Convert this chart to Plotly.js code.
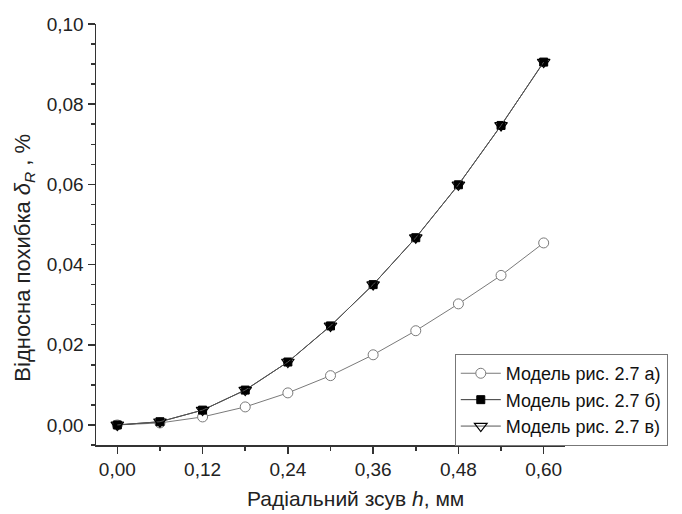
<!DOCTYPE html>
<html>
<head>
<meta charset="utf-8">
<script src="https://cdn.plot.ly/plotly-3.0.1.min.js"></script>
<style>html,body{margin:0;padding:0;background:#fff}#chart{width:682px;height:514px}</style>
</head>
<body>
<div id="chart"></div>
<script>
const h = [0.00, 0.06, 0.12, 0.18, 0.24, 0.30, 0.36, 0.42, 0.48, 0.54, 0.60];
const modelA = [0.0000, 0.0005, 0.0020, 0.0045, 0.0080, 0.0123, 0.0175, 0.0235, 0.0302, 0.0373, 0.0454];
const modelB = [0.0000, 0.0008, 0.0037, 0.0087, 0.0157, 0.0247, 0.0350, 0.0467, 0.0599, 0.0747, 0.0905];
const modelV = [0.0000, 0.0008, 0.0037, 0.0087, 0.0157, 0.0247, 0.0350, 0.0467, 0.0599, 0.0747, 0.0905];
const names = ['Модель рис. 2.7 а)', 'Модель рис. 2.7 б)', 'Модель рис. 2.7 в)'];
const xTitle = 'Радіальний зсув <i>h</i>, мм';
const yTitle = 'Відносна похибка <i>δ<sub>R</sub></i> , %';

const traces = [
  {x: h, y: modelA, name: names[0], mode: 'lines+markers',
   line: {color: '#7a7a7a', width: 1},
   marker: {symbol: 'circle', size: 10, color: '#ffffff', line: {color: '#7a7a7a', width: 1}}},
  {x: h, y: modelB, name: names[1], mode: 'lines+markers',
   line: {color: '#333333', width: 1},
   marker: {symbol: 'square', size: 8, color: '#000000', line: {color: '#000000', width: 1}}},
  {x: h, y: modelV, name: names[2], mode: 'lines+markers',
   line: {color: '#555555', width: 1},
   marker: {symbol: 'triangle-down-open', size: 11, color: '#000000', line: {color: '#000000', width: 1.2}}}
];

const font = {family: '"Liberation Sans", Arial, sans-serif', color: '#222', size: 19};
const layout = {
  width: 682, height: 514,
  margin: {l: 96, r: 117, t: 24, b: 69},
  paper_bgcolor: '#fff', plot_bgcolor: '#fff',
  font: font,
  separators: ', ',
  showlegend: true,
  xaxis: {
    range: [-0.03, 0.63], dtick: 0.12, tick0: 0, tickformat: '.2f',
    showgrid: false, zeroline: false, showline: true, linecolor: '#333', linewidth: 1.5,
    ticks: 'outside', ticklen: 7, tickwidth: 1.5, tickcolor: '#333',
    minor: {dtick: 0.06, ticks: 'outside', ticklen: 4, tickwidth: 1.5, tickcolor: '#333', showgrid: false},
    tickfont: {size: 19}
  },
  yaxis: {
    range: [-0.005, 0.10], dtick: 0.02, tick0: 0, tickformat: '.2f',
    showgrid: false, zeroline: false, showline: true, linecolor: '#333', linewidth: 1.5,
    ticks: 'outside', ticklen: 7, tickwidth: 1.5, tickcolor: '#333',
    minor: {dtick: 0.005, ticks: 'outside', ticklen: 4, tickwidth: 1.5, tickcolor: '#333', showgrid: false},
    tickfont: {size: 19}
  },
  annotations: [
    {text: xTitle, xref: 'paper', yref: 'paper', x: 0.554, y: -0.128, xanchor: 'center', yanchor: 'middle',
     showarrow: false, font: {size: 21}},
    {text: yTitle, xref: 'paper', yref: 'paper', x: -0.1535, y: 0.445, xanchor: 'center', yanchor: 'middle',
     textangle: -90, showarrow: false, font: {size: 22}}
  ],
  legend: {
    x: 0.765, y: 0.216, xanchor: 'left', yanchor: 'top',
    bgcolor: '#fff', bordercolor: '#777', borderwidth: 1,
    font: {size: 18, color: '#111'}, itemwidth: 40, tracegroupgap: 0,
    traceorder: 'normal'
  }
};
Plotly.newPlot('chart', traces, layout, {displayModeBar: false, staticPlot: true});
</script>
</body>
</html>
